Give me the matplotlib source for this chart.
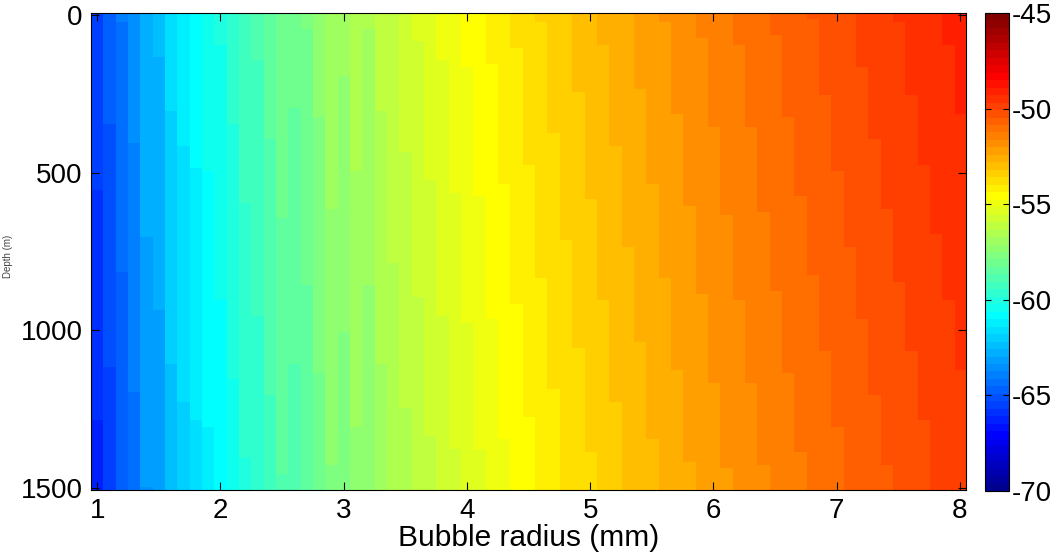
import numpy as np
import matplotlib
matplotlib.use("Agg")
import matplotlib.pyplot as plt
from matplotlib.colors import ListedColormap

plt.rcParams['font.family'] = ['Liberation Sans', 'DejaVu Sans']
plt.rcParams['axes.unicode_minus'] = False

# bubble radius columns (mm) and depth rows (m)
radius = np.round(np.arange(1.0, 8.01, 0.1), 1)
depth = np.arange(0, 1501, 10)

# colour level (1..64 of the jet map) of each radius column at the surface
top_level = [12, 14, 16, 17, 19, 20, 22, 23, 24, 25,
             26, 27, 28, 29, 30, 31, 31, 32, 33, 34,
             34, 35, 35, 36, 36, 37, 38, 38, 39, 39,
             40, 40, 41, 41, 42, 42, 43, 43, 43, 44,
             44, 45, 45, 45, 46, 46, 47, 47, 47, 48,
             48, 48, 49, 49, 49, 50, 50, 50, 51, 51,
             51, 51, 52, 52, 52, 53, 53, 53, 53, 54,
             54]

# depths (m) where each column steps down one colour level
drops = [
    [557, 1284], [346, 1115], [30, 817], [407, 1196], [708, 1498],
    [135, 936], [304, 1108], [418, 1226], [483, 1287], [500, 1305],
    [100, 905], [350, 1155], [600, 1405], [150, 955], [400, 1205],
    [650, 1455], [300, 1105], [50, 855], [330, 1135], [620, 1425],
    [200, 1005], [500, 1305], [50, 855], [304, 1110], [788],
    [436, 1247], [88, 897], [525, 1337], [146, 957], [568, 1379],
    [167, 978], [578, 1379], [156, 967], [536, 1347], [107, 918],
    [478, 1278], [28, 836], [378, 1187], [715], [246, 1057],
    [585, 1387], [96, 907], [417, 1226], [736], [237, 1038],
    [536, 1347], [28, 836], [318, 1126], [608, 1416], [75, 886],
    [357, 1168], [636, 1437], [98, 907], [357, 1168], [627, 1426],
    [67, 876], [328, 1138], [578, 1386], [16, 825], [256, 1066],
    [497, 1308], [736], [167, 967], [397, 1208], [617, 1427],
    [30, 847], [256, 1066], [476, 1286], [696], [98, 907],
    [318, 1126],
]

vmin, vmax = -70, -45
n_colors = 64


def matlab_jet(n):
    # same construction as MATLAB's jet(n)
    m = n // 4
    u = np.concatenate([np.arange(1, m + 1) / m, np.ones(m - 1), np.arange(m, 0, -1) / m])
    g = int(np.ceil(m / 2)) - (n % 4 == 1) + np.arange(1, len(u) + 1)
    r = g + m
    b = g - m
    cols = np.zeros((n, 3))
    for chan, idx in ((0, r), (1, g), (2, b)):
        ok = (idx >= 1) & (idx <= n)
        cols[idx[ok] - 1, chan] = u[ok]
    return cols


# build the level grid: rows = depth, columns = radius
levels = np.zeros((len(depth), len(radius)))
for i, (top, steps) in enumerate(zip(top_level, drops)):
    for j, d in enumerate(depth):
        levels[j, i] = top - sum(1 for s in steps if s <= d)
values = vmin + (levels - 0.5) * (vmax - vmin) / n_colors

cmap = ListedColormap(matlab_jet(n_colors))

fig = plt.figure(figsize=(10.56, 5.58), dpi=100)
ax = fig.add_axes([0.0862, 0.1219, 0.8286, 0.8548])
cax = fig.add_axes([0.9328, 0.1201, 0.0227, 0.8566])

dx = 0.05
dy = 5
im = ax.imshow(values, cmap=cmap, vmin=vmin, vmax=vmax, aspect='auto',
               interpolation='nearest',
               extent=[radius[0] - dx, radius[-1] + dx, depth[-1] + dy, depth[0] - dy])

ax.set_xticks(range(1, 9))
ax.set_yticks([0, 500, 1000, 1500])
ax.tick_params(direction='in', top=True, right=True, length=6, width=0.8,
               labelsize=20, pad=6)
ax.set_xlabel('Bubble radius (mm)', fontsize=21.5, labelpad=0)
for sp in ax.spines.values():
    sp.set_linewidth(0.8)

# tiny y label sitting at the far left edge
fig.text(0.008, 0.541, 'Depth (m)', rotation=90, fontsize=7, color='#444444',
         ha='center', va='center')

cb = fig.colorbar(im, cax=cax, ticks=range(-70, -44, 5))
cb.ax.tick_params(direction='in', left=True, right=True, length=4, width=0.8,
                  labelsize=20, pad=2)
cb.outline.set_linewidth(0.8)

fig.savefig('out.png', dpi=100)
